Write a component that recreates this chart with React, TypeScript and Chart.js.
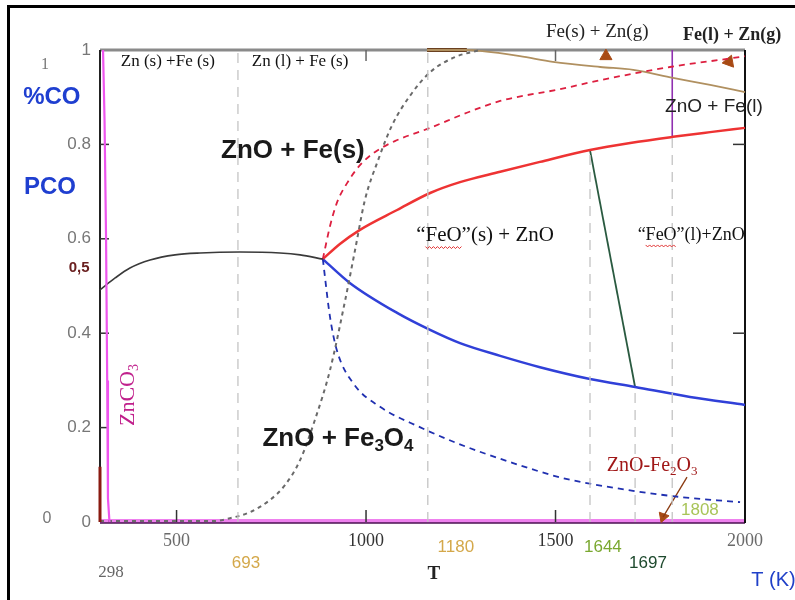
import React, { useEffect, useRef } from 'react';
import { Chart, registerables } from 'chart.js';

Chart.register(...registerables);

// ---------- data (T in K, P = pCO fraction) ----------
const xTickValues = [500, 1000, 1500, 2000];
const yTickValues = [0, 0.2, 0.4, 0.6, 0.8, 1];

// Fe3O4 / Fe equilibrium (black)
const fe3o4FeT = [298, 338, 377, 430, 496, 562, 667, 773, 826, 886];
const fe3o4FeP = [0.492, 0.517, 0.538, 0.555, 0.566, 0.57, 0.572, 0.57, 0.566, 0.557];

// FeO / Fe (red solid)
const feoFeT = [886, 931, 984, 1082, 1169, 1248, 1354, 1459, 1591, 1697, 1810, 1908, 2000];
const feoFeP = [0.557, 0.589, 0.619, 0.661, 0.697, 0.72, 0.742, 0.763, 0.788, 0.803, 0.816, 0.826, 0.835];

// Fe3O4 / FeO (blue solid)
const fe3o4FeoT = [886, 958, 1082, 1169, 1248, 1354, 1459, 1591, 1710, 1855, 2000];
const fe3o4FeoP = [0.557, 0.506, 0.443, 0.407, 0.379, 0.352, 0.328, 0.303, 0.286, 0.265, 0.248];

// %CO FeO / Fe (red dashed)
const feoFeCoT = [886, 905, 923, 950, 984, 1024, 1076, 1169, 1266, 1354, 1512, 1618, 1802, 1968, 2000];
const feoFeCoP = [0.557, 0.627, 0.676, 0.718, 0.756, 0.784, 0.807, 0.835, 0.867, 0.892, 0.917, 0.936, 0.964, 0.983, 0.987];

// %CO Fe3O4 / FeO (blue dashed)
const fe3o4FeoCoT = [886, 905, 923, 966, 1037, 1142, 1240, 1380, 1520, 1689, 1829, 1987];
const fe3o4FeoCoP = [0.557, 0.434, 0.364, 0.294, 0.244, 0.201, 0.167, 0.127, 0.093, 0.068, 0.053, 0.042];

// ZnO reduction (grey dashed)
const znoT = [298, 600, 641, 694, 747, 786, 826, 865, 905, 945, 971, 997, 1032, 1069, 1116, 1169, 1235, 1301];
const znoP = [0.002, 0.002, 0.008, 0.021, 0.047, 0.078, 0.131, 0.216, 0.322, 0.47, 0.576, 0.682, 0.767, 0.841, 0.903, 0.953, 0.985, 1.0];

// Zn(g) line (tan)
const zngT = [1161, 1266, 1301, 1406, 1493, 1618, 1705, 1810, 1908, 2000];
const zngP = [1.0, 1.0, 0.998, 0.987, 0.975, 0.964, 0.958, 0.941, 0.926, 0.911];
const zngThickT = [1161, 1266];
const zngThickP = [1.0, 1.0];

// FeO(s)/FeO(l) boundary (dark green)
const meltT = [1591, 1710];
const meltP = [0.788, 0.286];

// Fe(s)/Fe(l) (purple)
const feMeltT = [1808, 1808];
const feMeltP = [0.816, 1.0];

// ZnCO3 (magenta)
const znco3T = [306, 310, 314, 317, 319, 323];
const znco3P = [1.0, 0.85, 0.6, 0.3, 0.05, 0.0];

// dark red segment on the left axis
const leftRedT = [298, 298];
const leftRedP = [0, 0.117];

// ZnO-Fe2O3 pointer
const pointerT = [1847, 1784];
const pointerP = [0.095, 0.011];

// triangles
const triT = [1633, 1958];
const triP = [0.987, 0.975];
const arrowT = [1784];
const arrowP = [0.011];

// vertical dashed boundaries
const boundaryT = [662, 1163, 1591, 1710, 1808];
const boundaryTop = [1, 1, 0.788, 0.286, 0.816];

// ---------- helpers ----------
type Pt = { x: number; y: number };
const zip = (t: number[], p: number[]): Pt[] => t.map((x, i) => ({ x, y: p[i] }));

type Run = { s: string; sub?: boolean; wavy?: boolean };
type Label = {
  runs: Run[];
  t: number;
  p: number;
  family: string;
  size: number;
  weight?: string;
  color: string;
  rotate?: number;
};

const SERIF = '"Liberation Serif", "DejaVu Serif", serif';
const SANS = '"Liberation Sans", Arial, sans-serif';
const NARROW = '"Liberation Sans Narrow", "Liberation Sans", sans-serif';

const labels: Label[] = [
  { runs: [{ s: 'Zn (s) +Fe (s)' }], t: 477, p: 0.975, family: SERIF, size: 17, color: '#111' },
  { runs: [{ s: 'Zn (l) + Fe (s)' }], t: 826, p: 0.975, family: SERIF, size: 17, color: '#111' },
  { runs: [{ s: 'Fe(s) + Zn(g)' }], t: 1610, p: 1.038, family: SERIF, size: 19, color: '#222' },
  { runs: [{ s: 'Fe(l) + Zn(g)' }], t: 1966, p: 1.032, family: SERIF, size: 18, weight: 'bold', color: '#222' },
  { runs: [{ s: 'ZnO + Fe(l)' }], t: 1918, p: 0.879, family: SANS, size: 19, color: '#222' },
  { runs: [{ s: 'ZnO + Fe(s)' }], t: 807, p: 0.786, family: SANS, size: 26, weight: 'bold', color: '#1a1a1a' },
  { runs: [{ s: '\u201C' }, { s: 'FeO', wavy: true }, { s: '\u201D(s) + ZnO' }], t: 1314, p: 0.608, family: SERIF, size: 21, color: '#111' },
  { runs: [{ s: '\u201C' }, { s: 'FeO', wavy: true }, { s: '\u201D(l)+ZnO' }], t: 1858, p: 0.608, family: SERIF, size: 18, color: '#111' },
  { runs: [{ s: 'ZnO + Fe' }, { s: '3', sub: true }, { s: 'O' }, { s: '4', sub: true }], t: 926, p: 0.177, family: SANS, size: 26, weight: 'bold', color: '#1a1a1a' },
  { runs: [{ s: 'ZnO-Fe' }, { s: '2', sub: true }, { s: 'O' }, { s: '3', sub: true }], t: 1755, p: 0.119, family: SERIF, size: 20, color: '#a01818' },
  { runs: [{ s: '1808' }], t: 1881, p: 0.025, family: NARROW, size: 17, color: '#a8c458' },
  { runs: [{ s: 'ZnCO' }, { s: '3', sub: true }], t: 372, p: 0.269, family: SERIF, size: 22, color: '#c0208c', rotate: -Math.PI / 2 },
  // outside the plot
  { runs: [{ s: '298' }], t: 327, p: -0.108, family: SERIF, size: 17, color: '#666' },
  { runs: [{ s: '693' }], t: 683, p: -0.087, family: NARROW, size: 17, color: '#d4a84a' },
  { runs: [{ s: '1180' }], t: 1237, p: -0.053, family: NARROW, size: 17, color: '#d4a84a' },
  { runs: [{ s: 'T' }], t: 1179, p: -0.11, family: SERIF, size: 19, weight: 'bold', color: '#222' },
  { runs: [{ s: '1644' }], t: 1625, p: -0.053, family: NARROW, size: 17, color: '#7aa830' },
  { runs: [{ s: '1697' }], t: 1744, p: -0.087, family: NARROW, size: 17, color: '#1e4a2e' },
  { runs: [{ s: 'T (K)' }], t: 2075, p: -0.123, family: SANS, size: 20, color: '#2040c8' },
  { runs: [{ s: '1' }], t: 153, p: 0.968, family: SERIF, size: 16, color: '#777' },
  { runs: [{ s: '%CO' }], t: 171, p: 0.9, family: SANS, size: 24, weight: 'bold', color: '#1f3fd0' },
  { runs: [{ s: 'PCO' }], t: 166, p: 0.708, family: SANS, size: 24, weight: 'bold', color: '#1f3fd0' },
  { runs: [{ s: '0,5' }], t: 243, p: 0.538, family: SANS, size: 15, weight: 'bold', color: '#6a2020' },
  { runs: [{ s: '0' }], t: 158, p: 0.008, family: SANS, size: 16, color: '#777' },
];

function drawLabel(ctx: CanvasRenderingContext2D, lab: Label, x: number, y: number) {
  const w = lab.weight || 'normal';
  const base = `${w} ${lab.size}px ${lab.family}`;
  const subFont = `${w} ${Math.round(lab.size * 0.65)}px ${lab.family}`;
  let total = 0;
  const widths = lab.runs.map((r) => {
    ctx.font = r.sub ? subFont : base;
    const ww = ctx.measureText(r.s).width;
    total += ww;
    return ww;
  });
  ctx.save();
  ctx.translate(x, y);
  if (lab.rotate) ctx.rotate(lab.rotate);
  ctx.textBaseline = 'middle';
  ctx.textAlign = 'left';
  let cx = -total / 2;
  lab.runs.forEach((r, i) => {
    ctx.font = r.sub ? subFont : base;
    ctx.fillStyle = lab.color;
    ctx.fillText(r.s, cx, r.sub ? lab.size * 0.3 : 0);
    if (r.wavy) {
      ctx.strokeStyle = '#e03030';
      ctx.lineWidth = 1;
      ctx.beginPath();
      const yy = lab.size * 0.55;
      let k = 0;
      for (let xx = cx; xx <= cx + widths[i]; xx += 2) {
        const yv = yy + (k % 2 === 0 ? 0 : 2);
        if (k === 0) ctx.moveTo(xx, yv);
        else ctx.lineTo(xx, yv);
        k++;
      }
      ctx.stroke();
    }
    cx += widths[i];
  });
  ctx.restore();
}

const framePlugin = {
  id: 'frame',
  beforeDatasetsDraw(chart: any) {
    const { ctx, chartArea: a, scales } = chart;
    const xs = scales.x;
    const ys = scales.y;
    ctx.save();
    // bottom axis (pink + dark purple)
    ctx.strokeStyle = '#ee80ee';
    ctx.lineWidth = 4;
    ctx.beginPath();
    ctx.moveTo(a.left, a.bottom - 1);
    ctx.lineTo(a.right, a.bottom - 1);
    ctx.stroke();
    ctx.strokeStyle = '#4a1050';
    ctx.lineWidth = 1.5;
    ctx.beginPath();
    ctx.moveTo(a.left, a.bottom + 1);
    ctx.lineTo(a.right, a.bottom + 1);
    ctx.stroke();
    // top border
    ctx.strokeStyle = '#8a8a8a';
    ctx.lineWidth = 3;
    ctx.beginPath();
    ctx.moveTo(a.left, a.top);
    ctx.lineTo(a.right, a.top);
    ctx.stroke();
    // left / right
    ctx.strokeStyle = '#222';
    ctx.lineWidth = 2;
    ctx.beginPath();
    ctx.moveTo(a.left, a.top);
    ctx.lineTo(a.left, a.bottom);
    ctx.stroke();
    ctx.strokeStyle = '#111';
    ctx.beginPath();
    ctx.moveTo(a.right, a.top);
    ctx.lineTo(a.right, a.bottom + 1);
    ctx.stroke();
    // tick marks
    ctx.strokeStyle = '#333';
    ctx.lineWidth = 1.5;
    [0.2, 0.4, 0.6, 0.8].forEach((v) => {
      const y = ys.getPixelForValue(v);
      ctx.beginPath();
      ctx.moveTo(a.left, y);
      ctx.lineTo(a.left + 9, y);
      ctx.stroke();
    });
    [0.4, 0.8].forEach((v) => {
      const y = ys.getPixelForValue(v);
      ctx.beginPath();
      ctx.moveTo(a.right, y);
      ctx.lineTo(a.right - 12, y);
      ctx.stroke();
    });
    [500, 1000, 1500].forEach((v) => {
      const x = xs.getPixelForValue(v);
      ctx.beginPath();
      ctx.moveTo(x, a.bottom);
      ctx.lineTo(x, a.bottom - 12);
      ctx.stroke();
    });
    ctx.strokeStyle = '#666';
    [1000, 1500].forEach((v) => {
      const x = xs.getPixelForValue(v);
      ctx.beginPath();
      ctx.moveTo(x, a.top);
      ctx.lineTo(x, a.top + 11);
      ctx.stroke();
    });
    ctx.restore();
  },
  afterDatasetsDraw(chart: any) {
    const { ctx, scales } = chart;
    labels.forEach((lab) => {
      drawLabel(ctx, lab, scales.x.getPixelForValue(lab.t), scales.y.getPixelForValue(lab.p));
    });
  },
};

function lineDs(data: Pt[], color: string, width: number, dash: number[] = [], smooth = true) {
  return {
    data,
    showLine: true,
    borderColor: color,
    backgroundColor: color,
    borderWidth: width,
    borderDash: dash,
    pointRadius: 0,
    pointHoverRadius: 0,
    cubicInterpolationMode: smooth ? 'monotone' : 'default',
    tension: 0,
    clip: false,
  };
}

export default function App() {
  const ref = useRef<HTMLCanvasElement | null>(null);

  useEffect(() => {
    if (!ref.current) return;
    const datasets: any[] = [];
    boundaryT.forEach((t, i) => {
      datasets.push(lineDs(zip([t, t], [0, boundaryTop[i]]), '#c4c4c4', 1.3, [10, 7], false));
    });
    datasets.push(lineDs(zip(znco3T, znco3P), '#ee55ee', 2.2, [], false));
    datasets.push(lineDs(zip(leftRedT, leftRedP), '#8a1a10', 3, [], false));
    datasets.push(lineDs(zip(fe3o4FeT, fe3o4FeP), '#3a3a3a', 1.6));
    datasets.push(lineDs(zip(znoT, znoP), '#6a6a6a', 2, [4, 4]));
    datasets.push(lineDs(zip(feoFeCoT, feoFeCoP), '#dd2040', 1.8, [6, 5]));
    datasets.push(lineDs(zip(fe3o4FeoCoT, fe3o4FeoCoP), '#2030b0', 1.8, [6, 5]));
    datasets.push(lineDs(zip(zngT, zngP), '#b09060', 1.8));
    datasets.push(lineDs(zip(zngThickT, zngThickP), '#6a4020', 4, [], false));
    datasets.push(lineDs(zip(feoFeT, feoFeP), '#ee3333', 2.5));
    datasets.push(lineDs(zip(fe3o4FeoT, fe3o4FeoP), '#3040d8', 2.5));
    datasets.push(lineDs(zip(meltT, meltP), '#2a5a40', 1.8, [], false));
    datasets.push(lineDs(zip(feMeltT, feMeltP), '#9030b0', 1.6, [], false));
    datasets.push(lineDs(zip(pointerT, pointerP), '#8a3a10', 1.3, [], false));
    datasets.push({
      data: zip(triT, triP),
      showLine: false,
      pointStyle: 'triangle',
      pointRadius: 7,
      rotation: [0, 20],
      backgroundColor: '#a84a14',
      borderColor: '#a84a14',
      clip: false,
    });
    datasets.push({
      data: zip(arrowT, arrowP),
      showLine: false,
      pointStyle: 'triangle',
      pointRadius: 6,
      rotation: 200,
      backgroundColor: '#a84a14',
      borderColor: '#a84a14',
      clip: false,
    });

    const chart = new Chart(ref.current, {
      type: 'scatter',
      data: { datasets },
      options: {
        animation: false,
        responsive: false,
        maintainAspectRatio: false,
        events: [],
        layout: { padding: { left: 0, top: 50, right: 50, bottom: 0 } },
        plugins: { legend: { display: false }, tooltip: { enabled: false } },
        scales: {
          x: {
            type: 'linear',
            min: 298,
            max: 2000,
            afterBuildTicks: (s: any) => {
              s.ticks = xTickValues.map((v) => ({ value: v }));
            },
            afterFit: (s: any) => {
              s.height = 78;
            },
            grid: { display: false, drawTicks: false },
            border: { display: false },
            ticks: {
              padding: 8,
              autoSkip: false,
              maxRotation: 0,
              font: { family: SERIF, size: 18 },
              color: (c: any) => (c.tick && (c.tick.value === 1000 || c.tick.value === 1500) ? '#333' : '#6a6a6a'),
              callback: (v: any) => String(v),
            },
          },
          y: {
            type: 'linear',
            min: 0,
            max: 1,
            afterBuildTicks: (s: any) => {
              s.ticks = yTickValues.map((v) => ({ value: v }));
            },
            afterFit: (s: any) => {
              s.width = 100;
            },
            grid: { display: false, drawTicks: false },
            border: { display: false },
            ticks: {
              padding: 9,
              autoSkip: false,
              font: { family: SANS, size: 17 },
              color: '#777',
              callback: (v: any) => (v === 0 ? '0' : v === 1 ? '1' : Number(v).toFixed(1)),
            },
          },
        },
      },
      plugins: [framePlugin],
    } as any);
    return () => chart.destroy();
  }, []);

  return (
    <div style={{ position: 'absolute', left: 0, top: 0, width: 795, height: 600, background: '#fff' }}>
      <canvas ref={ref} width={795} height={600} style={{ width: 795, height: 600, display: 'block' }} />
      <div
        style={{
          position: 'absolute',
          left: 7,
          top: 5,
          width: 788,
          height: 595,
          borderTop: '3px solid #000',
          borderLeft: '3px solid #000',
          boxSizing: 'border-box',
          pointerEvents: 'none',
        }}
      />
    </div>
  );
}
